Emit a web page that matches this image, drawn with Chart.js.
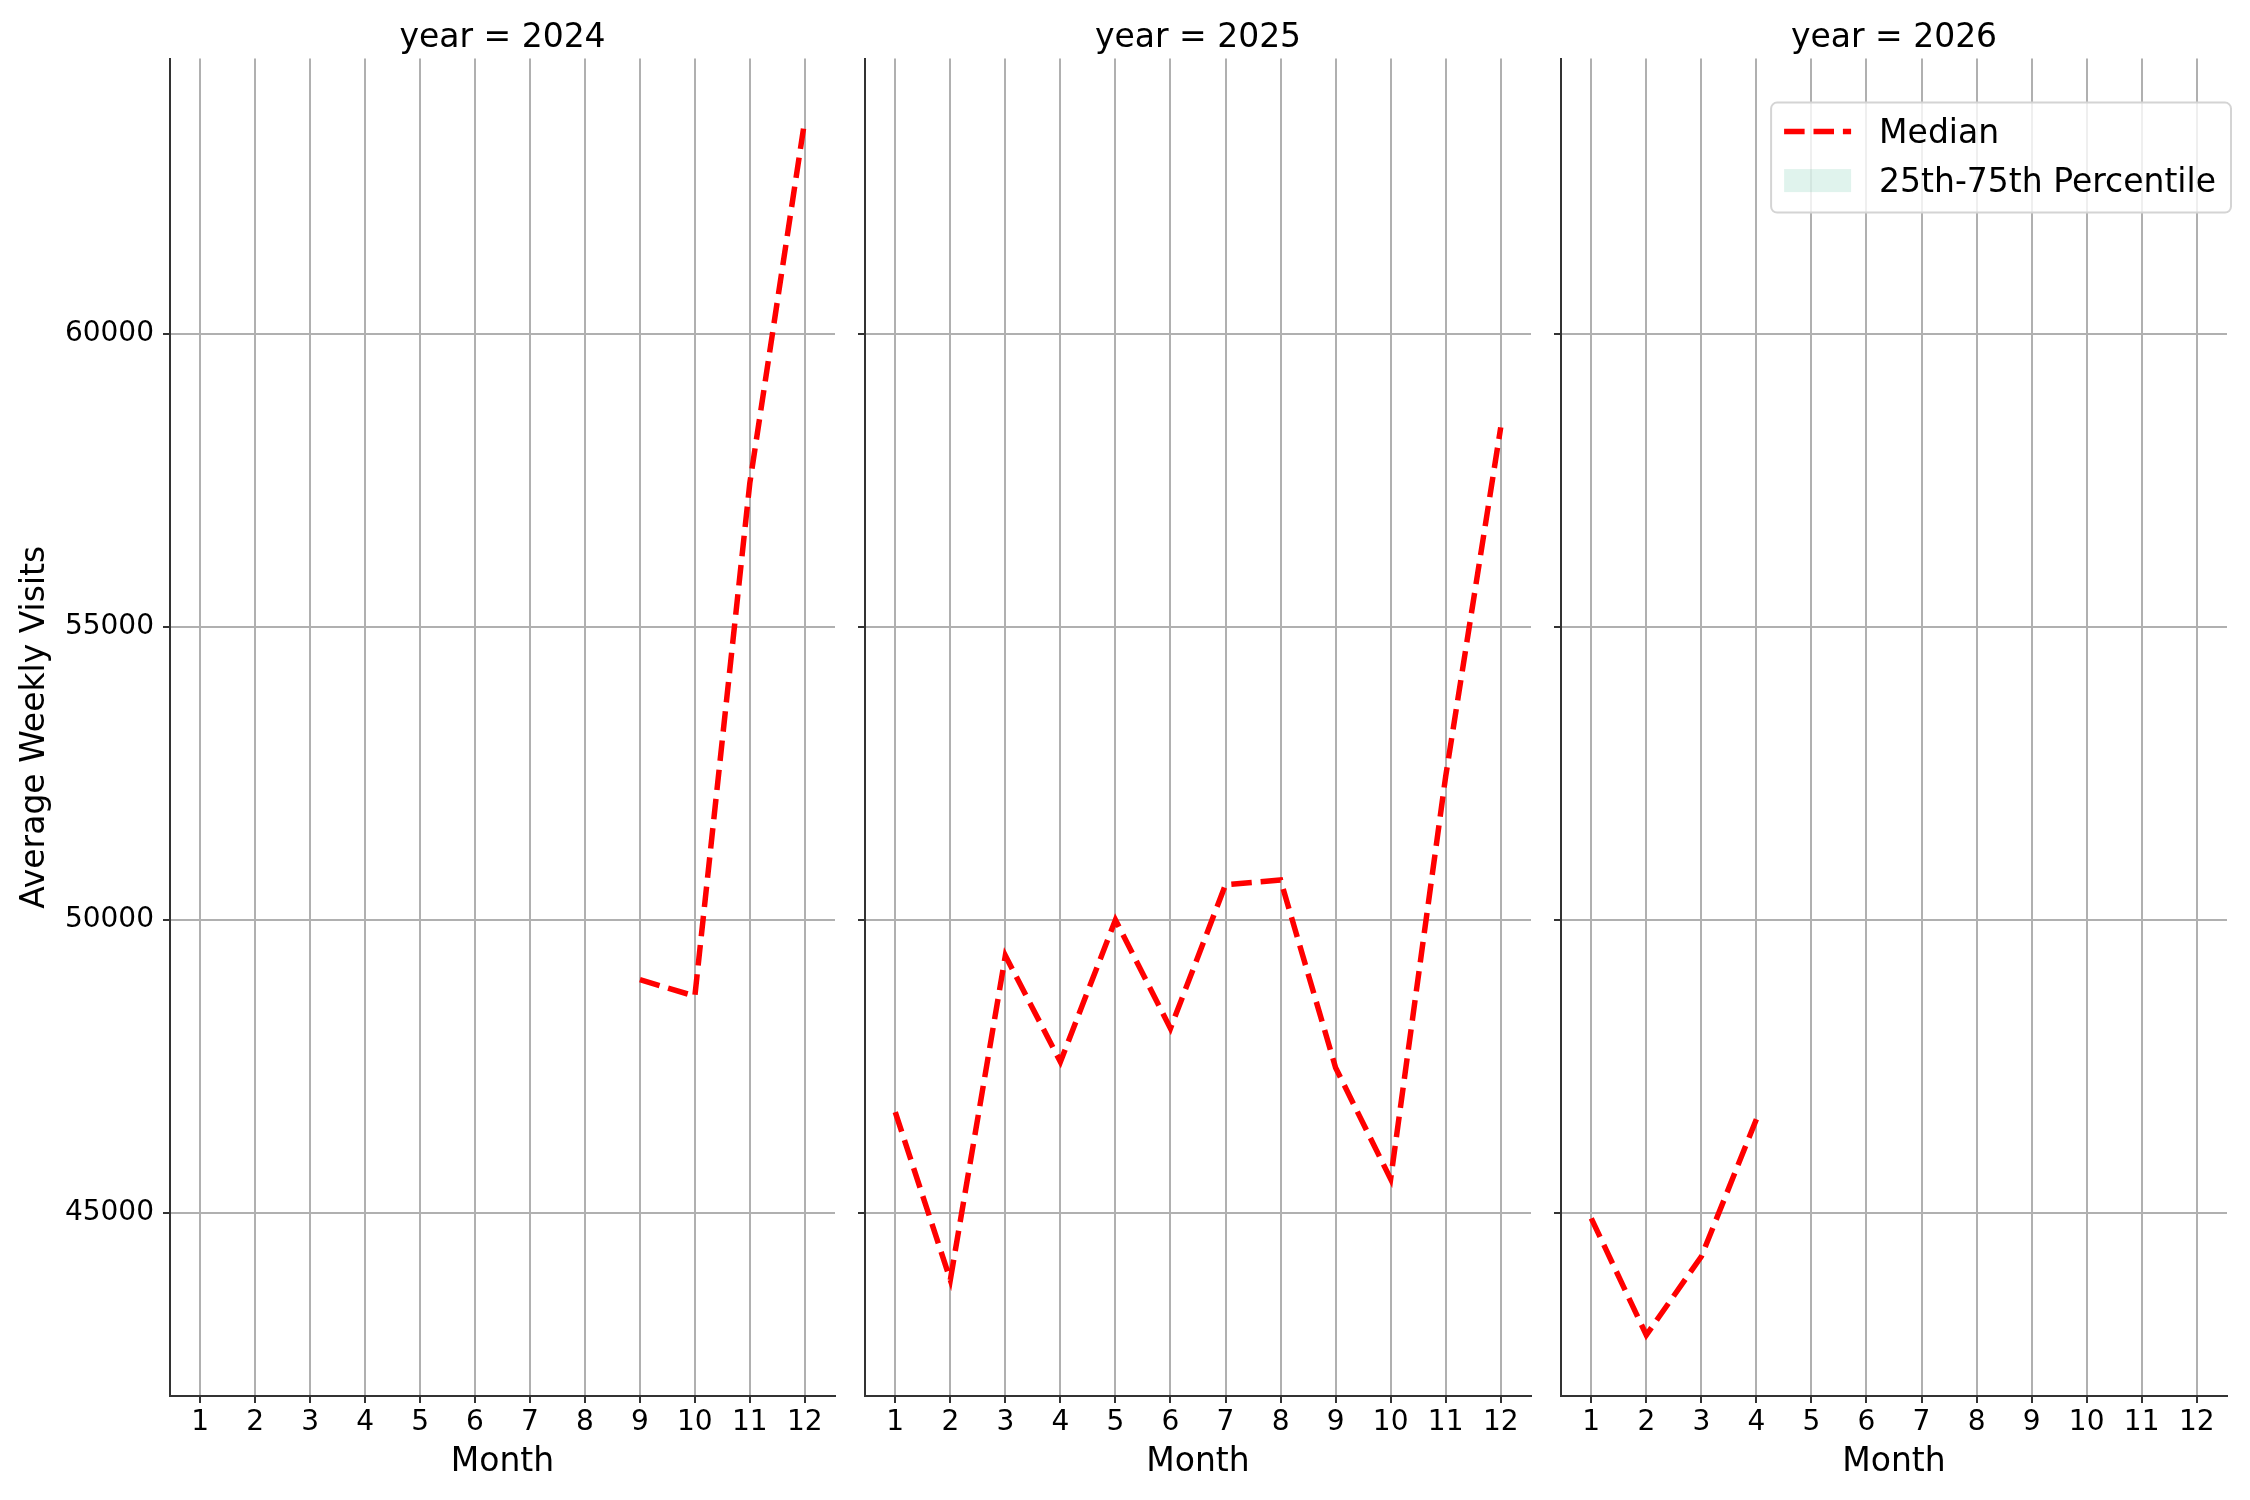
<!DOCTYPE html>
<html>
<head>
<meta charset="utf-8">
<title>Average Weekly Visits by Month</title>
<script src="https://cdn.jsdelivr.net/npm/chart.js@4.4.1/dist/chart.umd.min.js"></script>
<style>
  html, body { margin: 0; padding: 0; background: #fff; }
  #wrap { position: relative; width: 2250px; height: 1500px; }
  canvas { position: absolute; top: 0; }
</style>
</head>
<body>
<div id="wrap">
  <canvas id="c2024" width="850" height="1500" style="left:0px"></canvas>
  <canvas id="c2025" width="696" height="1500" style="left:850px"></canvas>
  <canvas id="c2026" width="704" height="1500" style="left:1546px"></canvas>
</div>
<script>
// values
const monthTicks = [1, 2, 3, 4, 5, 6, 7, 8, 9, 10, 11, 12]
const yTicks = [45000, 50000, 55000, 60000]

const months2024 = [9, 10, 11, 12]
const median2024 = [48980, 48700, 57450, 63640]

const months2025 = [1, 2, 3, 4, 5, 6, 7, 8, 9, 10, 11, 12]
const median2025 = [46720, 43860, 49390, 47580, 50000, 48150, 50600, 50680, 47480, 45580, 52450, 58400]

const months2026 = [1, 2, 3, 4]
const median2026 = [44910, 42920, 44260, 46600]

Chart.defaults.font.family = '"DejaVu Sans", sans-serif'
Chart.defaults.color = '#000'

const axisColor = '#333'
const gridColor = '#b0b0b0'
const dashPattern = [20.5, 8.9]

// matplotlib-style legend box, drawn on top of the grid
const legendBox = {
  id: 'legendBox',
  afterDraw(chart) {
    const ctx = chart.ctx
    const area = chart.chartArea
    const items = chart.data.datasets
    ctx.save()
    ctx.font = '33px "DejaVu Sans"'
    const textW = Math.max(...items.map(d => ctx.measureText(d.label).width))
    const w = 13 + 67 + 28 + textW + 15
    const h = 110
    const left = area.right + 4 - w
    const top = area.top + 44
    ctx.beginPath()
    ctx.roundRect(left, top, w, h, 6)
    ctx.fillStyle = 'rgba(255,255,255,0.8)'
    ctx.fill()
    ctx.strokeStyle = '#d4d4d4'
    ctx.lineWidth = 2
    ctx.stroke()
    items.forEach((d, i) => {
      const y = top + 29 + i * 49
      const x0 = left + 13
      if (d.borderDash) {
        ctx.beginPath()
        ctx.setLineDash(d.borderDash)
        ctx.lineWidth = d.borderWidth
        ctx.strokeStyle = d.borderColor
        ctx.moveTo(x0, y)
        ctx.lineTo(x0 + 67, y)
        ctx.stroke()
        ctx.setLineDash([])
      } else {
        ctx.fillStyle = d.backgroundColor
        ctx.fillRect(x0, y - 11.5, 67, 23)
      }
      ctx.fillStyle = '#000'
      ctx.textBaseline = 'middle'
      ctx.textAlign = 'left'
      ctx.fillText(d.label, x0 + 67 + 28, y + 3)
    })
    ctx.restore()
  }
}

function makeChart(id, year, months, median, first, padRight, withLegend) {
  return new Chart(document.getElementById(id), {
    type: 'line',
    data: {
      datasets: [
        {
          label: 'Median',
          data: months.map((m, i) => ({ x: m, y: median[i] })),
          borderColor: 'red',
          borderWidth: 5.5,
          borderDash: dashPattern,
          pointRadius: 0,
          fill: false,
          tension: 0
        },
        {
          label: '25th-75th Percentile',
          data: [],
          backgroundColor: 'rgba(102,194,165,0.2)',
          borderWidth: 0,
          pointRadius: 0
        }
      ]
    },
    options: {
      responsive: false,
      animation: false,
      layout: { padding: { left: 0, right: padRight, top: 0, bottom: 0 } },
      plugins: {
        legend: { display: false },
        tooltip: { enabled: false },
        title: {
          display: true,
          text: 'year = ' + year,
          fullSize: false,
          font: { size: 33, weight: 'normal' },
          color: '#000',
          padding: { top: 19, bottom: 0 }
        }
      },
      scales: {
        x: {
          type: 'linear',
          min: 0.45,
          max: 12.55,
          afterBuildTicks: s => { s.ticks = monthTicks.map(v => ({ value: v })) },
          afterFit: s => { s.height = 104 },
          ticks: { font: { size: 28 }, color: '#000', padding: 3, autoSkip: false, maxRotation: 0 },
          grid: { color: gridColor, lineWidth: 2, tickLength: 7, tickColor: axisColor, tickWidth: 2 },
          border: { color: axisColor, width: 2 },
          title: { display: true, text: 'Month', font: { size: 33 }, color: '#000', padding: { top: 0, bottom: 18 } }
        },
        y: {
          type: 'linear',
          min: 41880,
          max: 64690,
          afterBuildTicks: s => { s.ticks = yTicks.map(v => ({ value: v })) },
          afterFit: s => { s.width = first ? 170 : 15 },
          ticks: { display: first, font: { size: 28 }, color: '#000', padding: 9, callback: v => String(v) },
          grid: { color: gridColor, lineWidth: 2, tickLength: 7, tickColor: axisColor, tickWidth: 2 },
          border: { color: axisColor, width: 2 },
          title: { display: first, text: 'Average Weekly Visits', font: { size: 33 }, color: '#000', padding: { top: 16, bottom: 0 } }
        }
      }
    },
    plugins: withLegend ? [legendBox] : []
  })
}

makeChart('c2024', 2024, months2024, median2024, true, 15, false)
makeChart('c2025', 2025, months2025, median2025, false, 15, false)
makeChart('c2026', 2026, months2026, median2026, false, 23, true)
</script>
</body>
</html>
